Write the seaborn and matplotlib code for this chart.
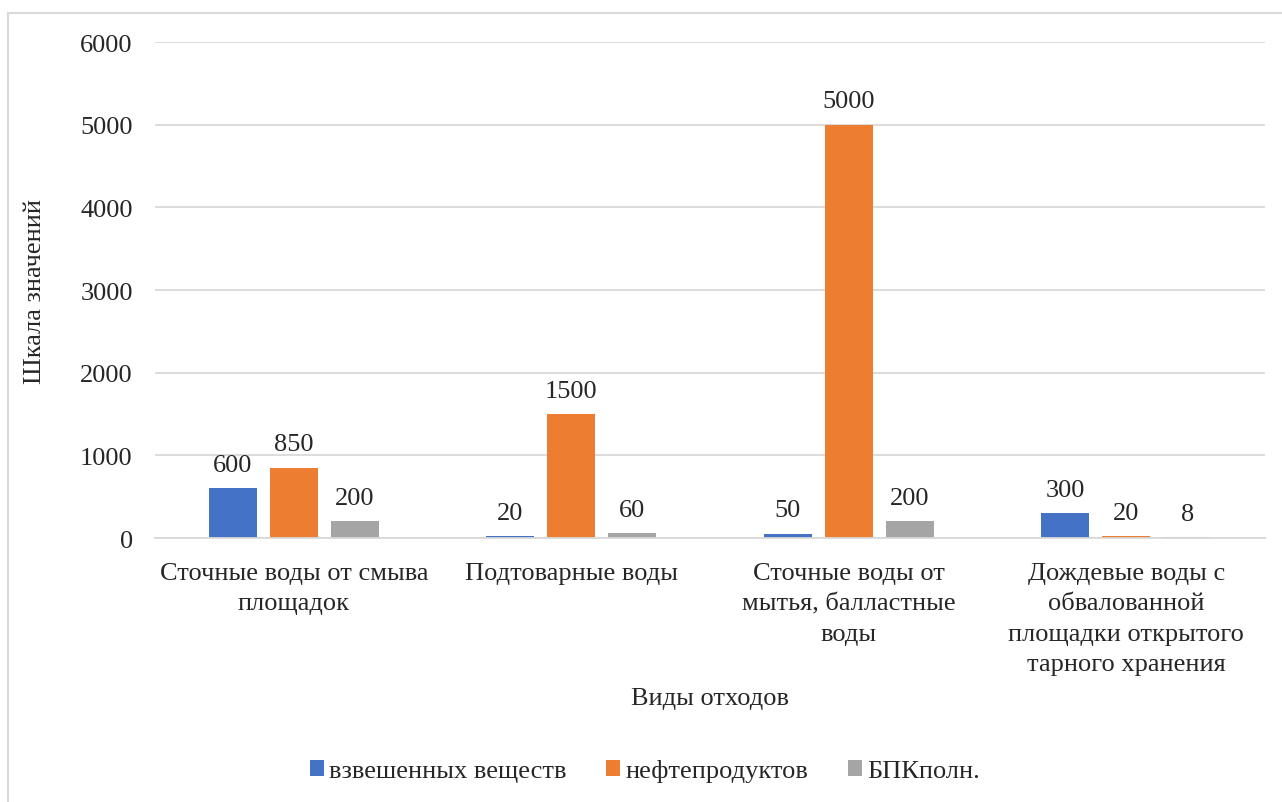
import matplotlib
matplotlib.use("Agg")
import matplotlib.pyplot as plt
import seaborn as sns
import pandas as pd
from matplotlib.patches import Rectangle

categories = ["Сточные воды от смыва\nплощадок", "Подтоварные воды",
              "Сточные воды от\nмытья, балластные\nводы",
              "Дождевые воды с\nобвалованной\nплощадки открытого\nтарного хранения"]
series = ["взвешенных веществ", "нефтепродуктов", "БПКполн."]
v_susp = [600, 20, 50, 300]
v_oil = [850, 1500, 5000, 20]
v_bpk = [200, 60, 200, 8]
colors = ["#4472C4", "#ED7D31", "#A5A5A5"]
yticks = [0, 1000, 2000, 3000, 4000, 5000, 6000]

rows = []
for s, vals in zip(series, [v_susp, v_oil, v_bpk]):
    for c, v in zip(categories, vals):
        rows.append({"cat": c, "series": s, "value": v})
df = pd.DataFrame(rows)

sns.set_theme(style="white")
plt.rcParams["font.family"] = ["Liberation Serif", "DejaVu Serif"]

FS = 19
fig = plt.figure(figsize=(12.82, 8.03), dpi=100)
ax = fig.add_axes([155/1282, 1-539/803, 1110/1282, (539-43)/803])

sns.barplot(data=df, x="cat", y="value", hue="series", order=categories,
            hue_order=series, palette=colors, width=0.66, gap=0.21,
            ax=ax, legend=True, saturation=1, linewidth=0)

ax.set_ylim(0, 6000)
ax.set_yticks(yticks)
ax.set_yticklabels([str(t) for t in yticks], fontsize=FS)
ax.tick_params(axis="y", length=0, pad=16)
ax.tick_params(axis="x", length=0, pad=17)
for lbl in ax.get_xticklabels():
    lbl.set_fontsize(FS)
    lbl.set_linespacing(1.5)
ax.grid(axis="y", color="#D9D9D9", linewidth=1.3)
ax.set_axisbelow(True)
for sp in ["top", "right", "left"]:
    ax.spines[sp].set_visible(False)
ax.spines["bottom"].set_color("#D9D9D9")
ax.spines["bottom"].set_linewidth(1.3)

for cont in ax.containers:
    ax.bar_label(cont, fmt="%g", padding=9, fontsize=FS)

ax.set_xlabel("Виды отходов", fontsize=FS)
ax.set_ylabel("Шкала значений", fontsize=FS)
ax.xaxis.set_label_coords(0.5, -(688 - 539) / 496)
ax.yaxis.set_label_coords(-(155 - 46) / 1110, 0.5)

leg = ax.legend(loc="center", bbox_to_anchor=(0.503, 1 - 772 / 803),
                bbox_transform=fig.transFigure, ncol=3, frameon=False,
                fontsize=FS, handlelength=0.53, handleheight=0.53,
                handletextpad=0.2, columnspacing=1.5)
leg.set_title(None)

fig.patches.append(Rectangle((8/1282, -0.1), 1.2, 1 - 14/803 + 0.1,
                             transform=fig.transFigure, fill=False,
                             edgecolor="#D9D9D9", linewidth=1.5))

fig.savefig("out.png", dpi=100)
